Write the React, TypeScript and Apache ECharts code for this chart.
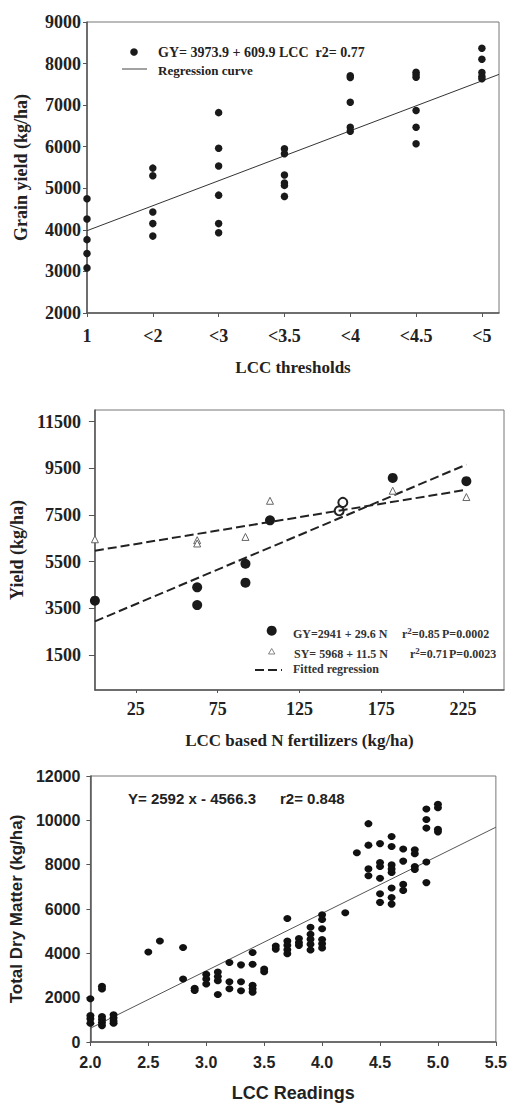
import React, { useEffect, useRef } from "react";
import * as echarts from "echarts";

// ---------- Chart 1: Grain yield vs LCC thresholds ----------
const LCC_CATS = ["1", "<2", "<3", "<3.5", "<4", "<4.5", "<5"];
const GY_BY_THRESHOLD = [
  [4750, 4260, 3765, 3430, 3085],
  [5485, 5300, 4430, 4150, 3850],
  [6820, 5965, 5535, 4835, 4150, 3930],
  [5950, 5830, 5320, 5125, 5070, 4805],
  [7705, 7665, 7070, 6470, 6370],
  [7790, 7730, 7670, 6870, 6470, 6070],
  [8370, 8105, 7785, 7690, 7635],
];
const REG1_X = [0, 6.26];
const REG1_Y = [3980, 7740];

// ---------- Chart 2: Yield vs LCC based N ----------
const GY_N = [0, 62.5, 62.5, 92, 92, 107, 182, 227];
const GY_YIELD = [3830, 4400, 3640, 5410, 4600, 7270, 9090, 8950];
const SY_N = [0, 62.5, 62.5, 92, 107, 182, 227];
const SY_YIELD = [6460, 6420, 6280, 6560, 8110, 8540, 8270];
const OVERLAP_N = [151.5, 149.3];
const OVERLAP_YIELD = [8040, 7680];
const GY_FIT_X = [0, 227];
const GY_FIT_Y = [2940, 9660];
const SY_FIT_X = [0, 227];
const SY_FIT_Y = [5970, 8580];
const N_TICKS = [25, 75, 125, 175, 225];
const YIELD_TICKS = [1500, 3500, 5500, 7500, 9500, 11500];

// ---------- Chart 3: Total dry matter vs LCC readings ----------
const LCC_READINGS = [2.0, 2.1, 2.2, 2.5, 2.6, 2.8, 2.9, 3.0, 3.1, 3.2, 3.3, 3.4, 3.5, 3.6, 3.7, 3.8, 3.9, 4.0, 4.2, 4.3, 4.4, 4.5, 4.6, 4.7, 4.8, 4.9, 5.0];
const TDM_BY_READING = [
  [1950, 1190, 1050, 850],
  [2510, 2390, 1150, 1020, 880, 740],
  [1230, 1080, 950, 850],
  [4060],
  [4560],
  [4260, 2840],
  [2420, 2320],
  [3050, 2840, 2620],
  [3160, 2950, 2760, 2140],
  [3590, 2720, 2400],
  [3480, 2720, 2310],
  [4040, 3510, 2560, 2400, 2250],
  [3290, 3170],
  [4330, 4190],
  [5570, 4560, 4360, 4160, 3980],
  [4670, 4490, 4360],
  [5180, 4860, 4630, 4410, 4150],
  [5740, 5530, 5110, 4620, 4430, 4240],
  [5830],
  [8540],
  [9850, 8880, 7810, 7500],
  [8950, 8100, 7920, 7390, 6690, 6300],
  [9270, 8820, 7990, 7800, 7650, 6950, 6520, 6220],
  [8710, 8160, 7110, 6840],
  [8670, 8490, 7920, 7780],
  [10510, 10040, 9650, 8120, 7190],
  [10720, 10570, 9600, 9480],
];
const REG3_X = [2.0, 5.5];
const REG3_Y = [620, 9690];

const SERIF = "'Liberation Serif', 'Times New Roman', serif";
const SANS = "'Liberation Sans', Arial, sans-serif";
const TXT = "#222";
const AX = "#555";

const zip = (xs: number[], ys: number[]) => xs.map((x, i) => [x, ys[i]]);
const plain = (v: number) => String(v);

export default function App() {
  const ref = useRef<HTMLDivElement>(null);
  useEffect(() => {
    if (!ref.current) return;
    const chart = echarts.init(ref.current, undefined, { renderer: "svg" });

    const pts1: number[][] = [];
    GY_BY_THRESHOLD.forEach((ys, i) => ys.forEach((y) => pts1.push([i, y])));
    const pts3: number[][] = [];
    TDM_BY_READING.forEach((ys, i) => ys.forEach((y) => pts3.push([LCC_READINGS[i], y])));

    const axisLine = { show: true, onZero: false, lineStyle: { color: AX, width: 1.5 } };
    const serifLabel = (size: number, margin: number) => ({
      fontFamily: SERIF, fontWeight: "bold", fontSize: size, color: TXT, margin,
    });
    const sansLabel = (size: number, margin: number) => ({
      fontFamily: SANS, fontWeight: "bold", fontSize: size, color: TXT, margin,
    });

    const option: any = {
      animation: false,
      backgroundColor: "#fff",
      grid: [
        { left: 87, width: 412, top: 22, height: 291, show: true, borderColor: "#777", borderWidth: 1 },
        { left: 87, width: 417, top: 410, height: 280, show: true, borderColor: "#777", borderWidth: 1 },
        { left: 90, width: 407, top: 776, height: 267, show: true, borderColor: "#777", borderWidth: 1 },
      ],
      xAxis: [
        {
          gridIndex: 0, type: "value", min: 0, max: 6.26,
          name: "LCC thresholds", nameLocation: "middle", nameGap: 46,
          nameTextStyle: { fontFamily: SERIF, fontWeight: "bold", fontSize: 17, color: TXT },
          axisLine, splitLine: { show: false },
          axisTick: { show: true, length: 4, lineStyle: { color: AX }, customValues: [0, 1, 2, 3, 4, 5, 6] },
          axisLabel: {
            ...serifLabel(18, 14),
            customValues: [0, 1, 2, 3, 4, 5, 6],
            formatter: (v: number) => LCC_CATS[Math.round(v)] ?? "",
          },
        },
        {
          gridIndex: 1, type: "value", min: 0, max: 250,
          name: "LCC based N fertilizers (kg/ha)", nameLocation: "middle", nameGap: 42,
          nameTextStyle: { fontFamily: SERIF, fontWeight: "bold", fontSize: 17, color: TXT },
          axisLine, splitLine: { show: false },
          axisTick: { show: true, length: 3, lineStyle: { color: AX }, customValues: N_TICKS },
          axisLabel: { ...serifLabel(18, 10), customValues: N_TICKS, formatter: plain },
        },
        {
          gridIndex: 2, type: "value", min: 2, max: 5.5, interval: 0.5,
          name: "LCC Readings", nameLocation: "middle", nameGap: 42,
          nameTextStyle: { fontFamily: SANS, fontWeight: "bold", fontSize: 18, color: TXT },
          axisLine, splitLine: { show: false },
          axisTick: { show: true, length: 4, lineStyle: { color: AX } },
          axisLabel: { ...sansLabel(16, 12), formatter: (v: number) => v.toFixed(1) },
        },
      ],
      yAxis: [
        {
          gridIndex: 0, type: "value", min: 2000, max: 9000, interval: 1000,
          name: "Grain yield (kg/ha)", nameLocation: "middle", nameGap: 57,
          nameTextStyle: { fontFamily: SERIF, fontWeight: "bold", fontSize: 18, color: TXT },
          axisLine, splitLine: { show: false },
          axisTick: { show: true, length: 4, lineStyle: { color: AX } },
          axisLabel: { ...serifLabel(18, 6), formatter: plain },
        },
        {
          gridIndex: 1, type: "value", min: 0, max: 12000,
          name: "Yield (kg/ha)", nameLocation: "middle", nameGap: 58,
          nameTextStyle: { fontFamily: SERIF, fontWeight: "bold", fontSize: 18, color: TXT },
          axisLine, splitLine: { show: false },
          axisTick: { show: true, length: 6, lineStyle: { color: AX }, customValues: YIELD_TICKS },
          axisLabel: { ...serifLabel(18, 14), customValues: YIELD_TICKS, formatter: plain },
        },
        {
          gridIndex: 2, type: "value", min: 0, max: 12000, interval: 2000,
          name: "Total Dry Matter (kg/ha)", nameLocation: "middle", nameGap: 64,
          nameTextStyle: { fontFamily: SANS, fontWeight: "bold", fontSize: 17, color: TXT },
          axisLine, splitLine: { show: false },
          axisTick: { show: true, length: 4, lineStyle: { color: AX } },
          axisLabel: { ...sansLabel(16, 10), formatter: plain },
        },
      ],
      series: [
        {
          name: "Regression curve", type: "line", xAxisIndex: 0, yAxisIndex: 0,
          data: zip(REG1_X, REG1_Y), symbol: "none",
          lineStyle: { color: "#333", width: 1 }, z: 2,
        },
        {
          name: "GY", type: "scatter", xAxisIndex: 0, yAxisIndex: 0,
          data: pts1, symbolSize: 7.5, itemStyle: { color: "#1a1a1a", opacity: 1 }, z: 3,
        },
        {
          name: "GY fit", type: "line", xAxisIndex: 1, yAxisIndex: 1,
          data: zip(GY_FIT_X, GY_FIT_Y), symbol: "none",
          lineStyle: { color: "#222", width: 2, type: [9, 4] }, z: 2,
        },
        {
          name: "SY fit", type: "line", xAxisIndex: 1, yAxisIndex: 1,
          data: zip(SY_FIT_X, SY_FIT_Y), symbol: "none",
          lineStyle: { color: "#222", width: 2, type: [9, 4] }, z: 2,
        },
        {
          name: "GY2", type: "scatter", xAxisIndex: 1, yAxisIndex: 1,
          data: zip(GY_N, GY_YIELD), symbolSize: 10, itemStyle: { color: "#1a1a1a", opacity: 1 }, z: 3,
        },
        {
          name: "SY", type: "scatter", xAxisIndex: 1, yAxisIndex: 1,
          data: zip(SY_N, SY_YIELD), symbol: "triangle", symbolSize: 7,
          itemStyle: { color: "#fff", borderColor: "#666", borderWidth: 1, opacity: 1 }, z: 3,
        },
        {
          name: "overlap", type: "scatter", xAxisIndex: 1, yAxisIndex: 1,
          data: zip(OVERLAP_N, OVERLAP_YIELD), symbolSize: 9,
          itemStyle: { color: "rgba(255,255,255,0)", borderColor: "#222", borderWidth: 2, opacity: 1 }, z: 4,
        },
        {
          name: "TDM fit", type: "line", xAxisIndex: 2, yAxisIndex: 2,
          data: zip(REG3_X, REG3_Y), symbol: "none",
          lineStyle: { color: "#555", width: 1 }, z: 2,
        },
        {
          name: "TDM", type: "scatter", xAxisIndex: 2, yAxisIndex: 2,
          data: pts3, symbolSize: [8, 7], itemStyle: { color: "#111", opacity: 1 }, z: 3,
        },
      ],
      graphic: [
        // chart 1 legend
        { type: "circle", shape: { cx: 134, cy: 52, r: 3.8 }, style: { fill: "#1a1a1a" } },
        {
          type: "text", x: 158, y: 52,
          style: { text: "GY= 3973.9 + 609.9 LCC  r2= 0.77", font: `bold 14px ${SERIF}`, fill: TXT, verticalAlign: "middle" },
        },
        { type: "line", shape: { x1: 122, y1: 69, x2: 147, y2: 69 }, style: { stroke: "#444", lineWidth: 1 } },
        {
          type: "text", x: 158, y: 70,
          style: { text: "Regression curve", font: `bold 13px ${SERIF}`, fill: TXT, verticalAlign: "middle" },
        },
        // chart 2 legend
        { type: "circle", shape: { cx: 271.7, cy: 630.7, r: 5 }, style: { fill: "#1a1a1a" } },
        {
          type: "text", x: 293, y: 634,
          style: { text: "GY=2941 + 29.6 N", font: `bold 12px ${SERIF}`, fill: "#333", verticalAlign: "middle" },
        },
        {
          type: "text", x: 402, y: 634,
          style: {
            text: "{a|r}{s|2}{a|=0.85}", verticalAlign: "middle",
            rich: {
              a: { font: `bold 12px ${SERIF}`, fill: "#333" },
              s: { font: `bold 9px ${SERIF}`, fill: "#333", verticalAlign: "top", padding: [0, 0, 6, 0] },
            },
          },
        },
        {
          type: "text", x: 442, y: 634,
          style: { text: "P=0.0002", font: `bold 12px ${SERIF}`, fill: "#333", verticalAlign: "middle" },
        },
        { type: "polygon", shape: { points: [[271.7, 648.5], [268.5, 654], [274.9, 654]] }, style: { fill: "#fff", stroke: "#666", lineWidth: 0.8 } },
        {
          type: "text", x: 294, y: 654,
          style: { text: "SY= 5968 + 11.5 N", font: `bold 12px ${SERIF}`, fill: "#333", verticalAlign: "middle" },
        },
        {
          type: "text", x: 410, y: 654,
          style: {
            text: "{a|r}{s|2}{a|=0.71}", verticalAlign: "middle",
            rich: {
              a: { font: `bold 12px ${SERIF}`, fill: "#333" },
              s: { font: `bold 9px ${SERIF}`, fill: "#333", verticalAlign: "top", padding: [0, 0, 6, 0] },
            },
          },
        },
        {
          type: "text", x: 449, y: 654,
          style: { text: "P=0.0023", font: `bold 12px ${SERIF}`, fill: "#333", verticalAlign: "middle" },
        },
        { type: "line", shape: { x1: 255, y1: 670, x2: 282, y2: 670 }, style: { stroke: "#222", lineWidth: 2, lineDash: [9, 4] } },
        {
          type: "text", x: 293, y: 669,
          style: { text: "Fitted regression", font: `bold 12px ${SERIF}`, fill: "#333", verticalAlign: "middle" },
        },
        // chart 3 annotation
        {
          type: "text", x: 128, y: 798,
          style: { text: "Y= 2592 x - 4566.3", font: `bold 15px ${SANS}`, fill: TXT, verticalAlign: "middle" },
        },
        {
          type: "text", x: 280, y: 798,
          style: { text: "r2= 0.848", font: `bold 15px ${SANS}`, fill: TXT, verticalAlign: "middle" },
        },
      ],
    };
    chart.setOption(option);
    return () => chart.dispose();
  }, []);
  return (
    <div
      ref={ref}
      style={{ position: "absolute", left: 0, top: 0, width: 510, height: 1103, background: "#fff" }}
    />
  );
}
